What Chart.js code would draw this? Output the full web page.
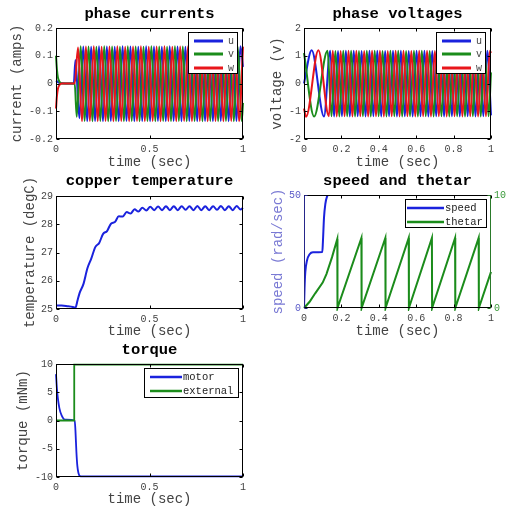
<!DOCTYPE html>
<html><head><meta charset="utf-8">
<script src="https://cdn.jsdelivr.net/npm/chart.js@4.4.1/dist/chart.umd.min.js"></script>
<style>
html,body{margin:0;padding:0;background:#fff;width:512px;height:508px;overflow:hidden;}
canvas{position:absolute;}
</style></head><body>
<canvas id="c1" width="256" height="171" style="left:0;top:0;width:256px;height:171px"></canvas>
<canvas id="c2" width="256" height="171" style="left:256px;top:0;width:256px;height:171px"></canvas>
<canvas id="c3" width="256" height="172" style="left:0;top:168px;width:256px;height:172px"></canvas>
<canvas id="c4" width="256" height="173" style="left:256px;top:167px;width:256px;height:173px"></canvas>
<canvas id="c5" width="256" height="172" style="left:0;top:336px;width:256px;height:172px"></canvas>
<script>
// ---------- tick values and labels ----------
const xTicksHalf = [0, 0.5, 1];
const xLabelsHalf = ['0', '0.5', '1'];
const xTicksFifth = [0, 0.2, 0.4, 0.6, 0.8, 1];
const xLabelsFifth = ['0', '0.2', '0.4', '0.6', '0.8', '1'];
const curTicks = [-0.2, -0.1, 0, 0.1, 0.2];
const curLabels = ['-0.2', '-0.1', '0', '0.1', '0.2'];
const volTicks = [-2, -1, 0, 1, 2];
const volLabels = ['-2', '-1', '0', '1', '2'];
const tempTicks = [25, 26, 27, 28, 29];
const tempLabels = ['25', '26', '27', '28', '29'];
const speedTicks = [0, 50];
const speedLabels = ['0', '50'];
const thetaTicks = [0, 10];
const thetaLabels = ['0', '10'];
const torqTicks = [-10, -5, 0, 5, 10];
const torqLabels = ['-10', '-5', '0', '5', '10'];

// ---------- phase currents (amps) ----------
const curUT = [0, 0.02, 0.095, 0.104, 0.125,
  0.146, 0.167, 0.188, 0.209, 0.23, 0.251, 0.272, 0.293, 0.314, 0.335, 0.356, 0.377, 0.398, 0.419, 0.44, 0.461,
  0.482, 0.503, 0.524, 0.545, 0.566, 0.587, 0.608, 0.629, 0.65, 0.671, 0.692, 0.713, 0.734, 0.755, 0.776, 0.797,
  0.818, 0.839, 0.86, 0.881, 0.902, 0.923, 0.944, 0.965, 0.986, 1];
const curUV = [0.01, 0.002, 0, 0.085, -0.125,
  0.133, -0.136, 0.132, -0.135, 0.134, -0.136, 0.133, -0.135,
  0.132, -0.136, 0.134, -0.135, 0.133, -0.136, 0.132, -0.135,
  0.134, -0.136, 0.133, -0.135, 0.132, -0.136, 0.134, -0.135,
  0.133, -0.136, 0.132, -0.135, 0.134, -0.136, 0.133, -0.135,
  0.132, -0.136, 0.134, -0.135, 0.133, -0.136, 0.132, -0.135,
  0.134, 0.06];
const curVT = [0, 0.005, 0.01, 0.02, 0.03, 0.1, 0.111,
  0.132, 0.153, 0.174, 0.195, 0.216, 0.237, 0.258, 0.279, 0.3, 0.321, 0.342, 0.363, 0.384, 0.405, 0.426, 0.447,
  0.468, 0.489, 0.51, 0.531, 0.552, 0.573, 0.594, 0.615, 0.636, 0.657, 0.678, 0.699, 0.72, 0.741, 0.762, 0.783,
  0.804, 0.825, 0.846, 0.867, 0.888, 0.909, 0.93, 0.951, 0.972, 0.993, 1];
const curVV = [0.1, 0.05, 0.022, 0.005, 0, 0, -0.12,
  0.134, -0.135, 0.133, -0.136, 0.132, -0.135, 0.134, -0.136,
  0.133, -0.135, 0.132, -0.136, 0.134, -0.135, 0.133, -0.136,
  0.132, -0.135, 0.134, -0.136, 0.133, -0.135, 0.132, -0.136,
  0.134, -0.135, 0.133, -0.136, 0.132, -0.135, 0.134, -0.136,
  0.133, -0.135, 0.132, -0.136, 0.134, -0.135, 0.133, -0.136,
  0.132, -0.135, -0.07];
const curWT = [0, 0.005, 0.01, 0.02, 0.03, 0.1,
  0.118, 0.139, 0.16, 0.181, 0.202, 0.223, 0.244, 0.265, 0.286, 0.307, 0.328, 0.349, 0.37, 0.391, 0.412, 0.433,
  0.454, 0.475, 0.496, 0.517, 0.538, 0.559, 0.58, 0.601, 0.622, 0.643, 0.664, 0.685, 0.706, 0.727, 0.748, 0.769,
  0.79, 0.811, 0.832, 0.853, 0.874, 0.895, 0.916, 0.937, 0.958, 0.979, 1];
const curWV = [-0.09, -0.045, -0.02, -0.004, 0, 0,
  0.13, -0.136, 0.133, -0.135, 0.134, -0.136, 0.132, -0.135,
  0.133, -0.136, 0.134, -0.135, 0.132, -0.136, 0.133, -0.135,
  0.134, -0.136, 0.132, -0.135, 0.133, -0.136, 0.134, -0.135,
  0.132, -0.136, 0.133, -0.135, 0.134, -0.136, 0.132, -0.135,
  0.133, -0.136, 0.134, -0.135, 0.132, -0.136, 0.133, -0.135,
  0.134, -0.136, 0.133];

// ---------- phase voltages (v) ----------
const volUT = [0, 0.041, 0.107,
  0.14, 0.161, 0.182, 0.203, 0.224, 0.245, 0.266, 0.287, 0.308, 0.329, 0.35, 0.371, 0.392, 0.413, 0.434, 0.455,
  0.476, 0.497, 0.518, 0.539, 0.56, 0.581, 0.602, 0.623, 0.644, 0.665, 0.686, 0.707, 0.728, 0.749, 0.77, 0.791,
  0.812, 0.833, 0.854, 0.875, 0.896, 0.917, 0.938, 0.959, 0.98, 1];
const volUV = [0, 1.2, -1.19,
  1.18, -1.19, 1.17, -1.18, 1.18, -1.19, 1.18, -1.18,
  1.17, -1.19, 1.18, -1.18, 1.18, -1.19, 1.17, -1.18,
  1.18, -1.19, 1.18, -1.18, 1.17, -1.19, 1.18, -1.18,
  1.18, -1.19, 1.17, -1.18, 1.18, -1.19, 1.18, -1.18,
  1.17, -1.19, 1.18, -1.18, 1.18, -1.19, 1.17, -1.18,
  1.18, -1.15];
const volVT = [0, 0.054,
  0.126, 0.147, 0.168, 0.189, 0.21, 0.231, 0.252, 0.273, 0.294, 0.315, 0.336, 0.357, 0.378, 0.399, 0.42, 0.441,
  0.462, 0.483, 0.504, 0.525, 0.546, 0.567, 0.588, 0.609, 0.63, 0.651, 0.672, 0.693, 0.714, 0.735, 0.756, 0.777,
  0.798, 0.819, 0.84, 0.861, 0.882, 0.903, 0.924, 0.945, 0.966, 0.987, 1];
const volVV = [1.1, -1.19,
  1.18, -1.18, 1.17, -1.19, 1.18, -1.18, 1.18, -1.19,
  1.17, -1.18, 1.18, -1.19, 1.18, -1.18, 1.17, -1.19,
  1.18, -1.18, 1.18, -1.19, 1.17, -1.18, 1.18, -1.19,
  1.18, -1.18, 1.17, -1.19, 1.18, -1.18, 1.18, -1.19,
  1.17, -1.18, 1.18, -1.19, 1.18, -1.18, 1.17, -1.19,
  1.18, -1.18, 0.4];
const volWT = [0, 0.011, 0.077,
  0.133, 0.154, 0.175, 0.196, 0.217, 0.238, 0.259, 0.28, 0.301, 0.322, 0.343, 0.364, 0.385, 0.406, 0.427, 0.448,
  0.469, 0.49, 0.511, 0.532, 0.553, 0.574, 0.595, 0.616, 0.637, 0.658, 0.679, 0.7, 0.721, 0.742, 0.763, 0.784,
  0.805, 0.826, 0.847, 0.868, 0.889, 0.91, 0.931, 0.952, 0.973, 0.994, 1];
const volWV = [-0.9, -1.2, 1.2,
  -1.18, 1.18, -1.19, 1.17, -1.18, 1.18, -1.19, 1.18,
  -1.18, 1.17, -1.19, 1.18, -1.18, 1.18, -1.19, 1.17,
  -1.18, 1.18, -1.19, 1.18, -1.18, 1.17, -1.19, 1.18,
  -1.18, 1.18, -1.19, 1.17, -1.18, 1.18, -1.19, 1.18,
  -1.18, 1.17, -1.19, 1.18, -1.18, 1.18, -1.19, 1.17,
  -1.18, 1.18, 1.1];

// ---------- copper temperature (degC) ----------
const tempT = [0, 0.03, 0.06, 0.09, 0.1, 0.105, 0.115,
  0.126, 0.147, 0.168, 0.189, 0.21, 0.231, 0.252, 0.273, 0.294, 0.315, 0.336, 0.357, 0.378, 0.399, 0.42, 0.441,
  0.462, 0.483, 0.504, 0.525, 0.546, 0.567, 0.588, 0.609, 0.63, 0.651, 0.672, 0.693, 0.714, 0.735, 0.756, 0.777,
  0.798, 0.819, 0.84, 0.861, 0.882, 0.903, 0.924, 0.945, 0.966, 0.987, 1];
const tempV = [25.12, 25.12, 25.1, 25.07, 25.05, 25.06, 25.3,
  25.56, 25.89, 26.44, 26.79, 27.19, 27.34, 27.66, 27.76, 28.02, 28.08, 28.28, 28.27, 28.43, 28.38, 28.53, 28.45,
  28.58, 28.49, 28.62, 28.5, 28.63, 28.5, 28.64, 28.5, 28.64, 28.5, 28.64, 28.51, 28.64, 28.5, 28.65, 28.5,
  28.64, 28.5, 28.64, 28.51, 28.65, 28.5, 28.64, 28.5, 28.65, 28.52, 28.58];

// ---------- speed (rad/sec) and thetar ----------
const speedT = [0, 0.003, 0.007, 0.016, 0.03, 0.048, 0.098, 0.101, 0.107, 0.114, 0.123, 0.131, 1];
const speedV = [0, 9, 16, 21, 23.8, 24.7, 24.8, 29, 40, 46, 49.3, 50, 50];
const thetaT = [0, 0.03, 0.06, 0.1, 0.12, 0.15, 0.178, 0.179, 0.307, 0.308, 0.435, 0.436, 0.56, 0.561,
  0.684, 0.685, 0.808, 0.809, 0.934, 0.935, 1];
const thetaV = [0, 0.55, 1.3, 2.25, 3.0, 4.5, 6.1, 0, 6.2, 0, 6.2, 0, 6.2, 0, 6.2, 0, 6.2, 0, 6.2, 0, 3.2];

// ---------- torque (mNm) ----------
const motorT = [0, 0.005, 0.01, 0.018, 0.03, 0.048, 0.1, 0.104, 0.109, 0.114, 0.12, 0.128, 0.14, 1];
const motorV = [8.2, 5.6, 3.9, 2.2, 0.9, 0.15, 0, -1.8, -5.5, -8, -9.3, -9.85, -9.9, -9.9];
const extT = [0, 0.097, 0.0975, 1];
const extV = [0, 0, 9.9, 9.9];

// ---------- styling helpers ----------
const MONO = "'Liberation Mono', 'DejaVu Sans Mono', monospace";
const TXT = '#444';
const BLUE = '#1a22dd', GREEN = '#1b8c1b', RED = '#e8161b';

function pts(t, v) { return t.map((x, i) => ({x: x, y: v[i]})); }

function line(label, t, v, color, order, smooth) {
  return {label: label, data: pts(t, v), borderColor: color, backgroundColor: color, borderWidth: 2,
    pointRadius: 0, fill: false, order: order, clip: 3,
    cubicInterpolationMode: smooth ? 'monotone' : 'default', tension: 0};
}

function xScale(vals, labels, H, pb) {
  return {type: 'linear', position: 'bottom', min: vals[0], max: vals[vals.length - 1],
    grid: {display: false, drawTicks: false}, border: {display: false},
    afterBuildTicks: s => { s.ticks = vals.map(v => ({value: v})); },
    afterFit: s => { s.height = H; },
    ticks: {autoSkip: false, maxRotation: 0, padding: 4, color: TXT, font: {family: MONO, size: 10},
      callback: (v, i) => labels[i]},
    title: {display: true, text: 'time (sec)', color: TXT, font: {family: MONO, size: 14},
      padding: {top: 0, bottom: pb}}};
}

function yScale(pos, vals, labels, W, title, pt, tickColor, titleColor) {
  return {type: 'linear', position: pos, min: vals[0], max: vals[vals.length - 1],
    grid: {display: false, drawTicks: false}, border: {display: false},
    afterBuildTicks: s => { s.ticks = vals.map(v => ({value: v})); },
    afterFit: s => { s.width = W; },
    ticks: {autoSkip: false, padding: 3, color: tickColor || TXT, font: {family: MONO, size: 10},
      callback: (v, i) => labels[i]},
    title: {display: !!title, text: title || '', color: titleColor || TXT, font: {family: MONO, size: 14},
      padding: {top: pt, bottom: 0}}};
}

const frame = {
  id: 'frame',
  afterDatasetsDraw(chart, args, o) {
    const {ctx, chartArea: a, scales} = chart;
    const L = a.left + 0.5, R = a.right - 0.5, T = a.top + 0.5, B = a.bottom - 0.5;
    const tk = 3;
    ctx.save();
    ctx.lineWidth = 1;
    ctx.strokeStyle = '#000';
    ctx.beginPath();
    scales.x.ticks.forEach(t => {
      const p = Math.round(scales.x.getPixelForValue(t.value)) + 0.5;
      ctx.moveTo(p, B); ctx.lineTo(p, B - tk);
      ctx.moveTo(p, T); ctx.lineTo(p, T + tk);
    });
    ctx.moveTo(L - 0.5, T); ctx.lineTo(R + 0.5, T);
    ctx.moveTo(L - 0.5, B); ctx.lineTo(R + 0.5, B);
    ctx.stroke();
    const ls = scales[o.left], rs = scales[o.right];
    ctx.strokeStyle = o.leftColor || '#000';
    ctx.beginPath();
    ctx.moveTo(L, T); ctx.lineTo(L, B);
    ls.ticks.forEach(t => {
      const p = Math.round(ls.getPixelForValue(t.value)) + 0.5;
      ctx.moveTo(L, p); ctx.lineTo(L + tk, p);
      if (o.left === o.right) { ctx.moveTo(R, p); ctx.lineTo(R - tk, p); }
    });
    ctx.stroke();
    ctx.strokeStyle = o.rightColor || '#000';
    ctx.beginPath();
    ctx.moveTo(R, T); ctx.lineTo(R, B);
    if (o.left !== o.right) {
      rs.ticks.forEach(t => {
        const p = Math.round(rs.getPixelForValue(t.value)) + 0.5;
        ctx.moveTo(R, p); ctx.lineTo(R - tk, p);
      });
    }
    ctx.stroke();
    ctx.restore();
  }
};

const boxLegend = {
  id: 'boxLegend',
  afterDatasetsDraw(chart, args, o) {
    const {ctx, chartArea: a} = chart;
    const x0 = a.right - o.right - o.w, y0 = a.top + o.top;
    ctx.save();
    ctx.fillStyle = '#fff';
    ctx.fillRect(x0, y0, o.w, o.h);
    ctx.strokeStyle = '#000';
    ctx.lineWidth = 1;
    ctx.strokeRect(x0 + 0.5, y0 + 0.5, o.w - 1, o.h - 1);
    chart.data.datasets.forEach((d, i) => {
      const y = y0 + o.rows[i];
      ctx.strokeStyle = d.borderColor;
      ctx.lineWidth = o.lw;
      ctx.beginPath();
      ctx.moveTo(x0 + o.lx0, y); ctx.lineTo(x0 + o.lx1, y);
      ctx.stroke();
      ctx.fillStyle = o.color;
      ctx.font = o.font;
      ctx.textBaseline = 'middle';
      ctx.textAlign = 'left';
      ctx.fillText(d.label, x0 + o.tx, y);
    });
    ctx.restore();
  }
};

function titleOpt(text, pt, pb) {
  return {display: true, text: text, fullSize: false, color: '#000',
    font: {family: MONO, size: 15.5, weight: 'bold'}, padding: {top: pt, bottom: pb}};
}

function make(id, datasets, padRight, title, scales, frameOpt, legendOpt) {
  const plugins = {legend: {display: false}, tooltip: {enabled: false}, title: title, frame: frameOpt};
  const inline = [frame];
  if (legendOpt) { plugins.boxLegend = legendOpt; inline.push(boxLegend); }
  return new Chart(document.getElementById(id), {
    type: 'line',
    data: {datasets: datasets},
    options: {responsive: false, animation: false, events: [],
      layout: {padding: {left: 0, right: padRight, top: 0, bottom: 0}},
      plugins: plugins, scales: scales},
    plugins: inline
  });
}

const smallLegend = {right: 5, top: 4, w: 50, h: 42, rows: [9, 22, 36], lx0: 6, lx1: 35, tx: 40, lw: 3,
  font: '10px ' + MONO, color: TXT};

// phase currents
make('c1', [
  line('u', curUT, curUV, BLUE, 3, true),
  line('v', curVT, curVV, GREEN, 2, true),
  line('w', curWT, curWV, RED, 1, true)
], 13, titleOpt('phase currents', 4.7, 4.7), {
  x: xScale(xTicksHalf, xLabelsHalf, 32, 0),
  y: yScale('left', curTicks, curLabels, 56, 'current (amps)', 8.6)
}, {left: 'y', right: 'y'}, smallLegend);

// phase voltages
make('c2', [
  line('u', volUT, volUV, BLUE, 3, true),
  line('v', volVT, volVV, GREEN, 2, true),
  line('w', volWT, volWV, RED, 1, true)
], 21, titleOpt('phase voltages', 4.7, 4.7), {
  x: xScale(xTicksFifth, xLabelsFifth, 32, 0),
  y: yScale('left', volTicks, volLabels, 48, 'voltage (v)', 12.6)
}, {left: 'y', right: 'y'}, smallLegend);

// copper temperature
make('c3', [
  line('temperature', tempT, tempV, BLUE, 1, true)
], 13, titleOpt('copper temperature', 3.7, 5.7), {
  x: xScale(xTicksHalf, xLabelsHalf, 31, 0.6),
  y: yScale('left', tempTicks, tempLabels, 56, 'temperature (degC)', 22.1)
}, {left: 'y', right: 'y'}, null);

// speed and thetar
const sp = line('speed', speedT, speedV, BLUE, 2, true);
sp.yAxisID = 'y';
sp.clip = 0;
const th = line('thetar', thetaT, thetaV, GREEN, 1, false);
th.yAxisID = 'y2';
make('c4', [sp, th], 0, titleOpt('speed and thetar', 4.7, 4.7), {
  x: xScale(xTicksFifth, xLabelsFifth, 32, 0.6),
  y: yScale('left', speedTicks, speedLabels, 48, 'speed (rad/sec)', 13.6, '#5a5ac8', '#7a7ad4'),
  y2: yScale('right', thetaTicks, thetaLabels, 21, '', 0, '#3a9a3a')
}, {left: 'y', right: 'y2', leftColor: '#26268a', rightColor: '#2a7a2a'},
  {right: 4, top: 4, w: 82, h: 29, rows: [9, 23], lx0: 2, lx1: 39, tx: 40, lw: 2.5,
   font: '10.5px ' + MONO, color: '#222'});

// torque
const mo = line('motor', motorT, motorV, BLUE, 2, true);
mo.borderWidth = 1.8;
const ex = line('external', extT, extV, GREEN, 1, false);
ex.borderWidth = 1.8;
make('c5', [mo, ex], 13, titleOpt('torque', 4.7, 4.7), {
  x: xScale(xTicksHalf, xLabelsHalf, 31, 0.6),
  y: yScale('left', torqTicks, torqLabels, 56, 'torque (mNm)', 14.9)
}, {left: 'y', right: 'y'},
  {right: 4, top: 4, w: 95, h: 30, rows: [9, 23], lx0: 6, lx1: 38, tx: 39, lw: 2.5,
   font: '10.5px ' + MONO, color: '#222'});
</script>
</body></html>
